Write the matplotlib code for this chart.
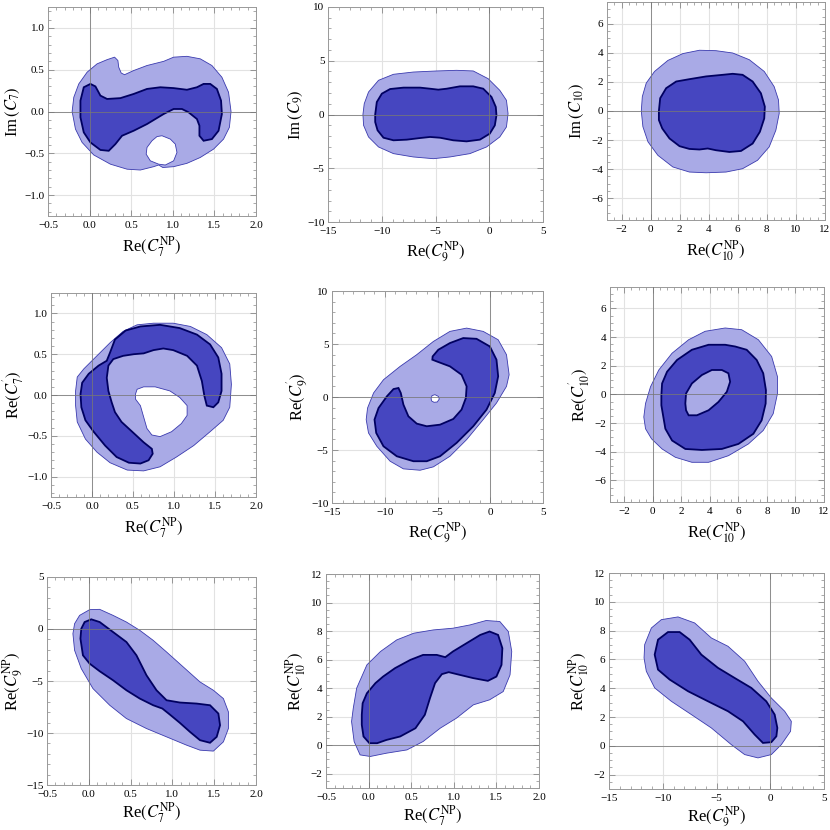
import matplotlib
matplotlib.use('Agg')
import matplotlib.pyplot as plt
from matplotlib.ticker import MultipleLocator, FuncFormatter

plt.rcParams['font.family'] = 'serif'
plt.rcParams['font.serif'] = ['Liberation Serif', 'DejaVu Serif']
plt.rcParams['mathtext.fontset'] = 'stix'

# ---------------- panel 1 : Re(C7) vs Im(C7) ----------------
p1_outer_x = [-0.21, -0.19, -0.13, -0.03, 0.09, 0.21, 0.30, 0.34, 0.35, 0.38, 0.42, 0.53, 0.69, 0.89, 1.01,
              1.17, 1.33, 1.47, 1.59, 1.67, 1.70, 1.68, 1.61, 1.49, 1.33, 1.17, 1.01, 0.88, 0.83, 0.77,
              0.61, 0.45, 0.25, 0.05, -0.09, -0.17]
p1_outer_y = [0.00, 0.17, 0.33, 0.47, 0.57, 0.62, 0.65, 0.61, 0.53, 0.46, 0.44, 0.49, 0.55, 0.60, 0.65,
              0.66, 0.63, 0.55, 0.41, 0.23, 0.00, -0.19, -0.33, -0.45, -0.55, -0.62, -0.66, -0.67, -0.64, -0.66,
              -0.70, -0.69, -0.63, -0.52, -0.37, -0.21]
p1_hole_x = [0.87, 0.97, 1.03, 1.05, 1.01, 0.91, 0.83, 0.73, 0.68, 0.69, 0.75, 0.81]
p1_hole_y = [-0.29, -0.33, -0.39, -0.49, -0.59, -0.64, -0.63, -0.59, -0.51, -0.43, -0.35, -0.30]
p1_inner_x = [-0.11, -0.07, 0.01, 0.07, 0.13, 0.21, 0.37, 0.53, 0.69, 0.85, 1.01, 1.17, 1.29, 1.37, 1.45,
              1.53, 1.58, 1.59, 1.55, 1.47, 1.37, 1.32, 1.32, 1.29, 1.19, 1.11, 1.01, 0.89, 0.69, 0.53,
              0.39, 0.31, 0.23, 0.13, 0.01, -0.07, -0.11]
p1_inner_y = [0.13, 0.29, 0.33, 0.30, 0.19, 0.15, 0.16, 0.21, 0.27, 0.29, 0.28, 0.26, 0.29, 0.33, 0.33,
              0.27, 0.13, -0.03, -0.23, -0.33, -0.35, -0.29, -0.17, -0.09, -0.01, 0.03, 0.03, -0.03, -0.15, -0.23,
              -0.29, -0.39, -0.47, -0.46, -0.37, -0.25, -0.07]

# ---------------- panel 2 : Re(C9) vs Im(C9) ----------------
p2_outer_x = [-11.75, -11.63, -11.23, -10.30, -8.91, -7.06, -4.89, -3.04, -1.49, -0.10, 0.98, 1.60, 1.75,
              1.60, 0.98, -0.25, -1.80, -3.66, -5.20, -7.06, -8.91, -10.30, -11.23, -11.69]
p2_outer_y = [0.0, 1.0, 2.09, 3.18, 3.74, 3.95, 4.05, 4.11, 4.05, 3.33, 2.25, 1.32, 0.08,
              -1.16, -2.09, -3.02, -3.64, -3.95, -4.11, -3.95, -3.64, -3.02, -2.09, -1.01]
p2_inner_x = [-10.61, -10.46, -9.99, -9.22, -7.98, -6.44, -5.51, -4.74, -3.96, -2.73, -1.49, -0.56, 0.21,
              0.61, 0.67, 0.52, 0.05, -0.87, -2.11, -3.35, -4.58, -5.51, -6.44, -7.67, -8.91, -9.84,
              -10.39, -10.61]
p2_inner_y = [0.0, 1.16, 1.94, 2.37, 2.50, 2.50, 2.40, 2.31, 2.40, 2.62, 2.62, 2.40, 1.63,
              0.70, -0.08, -1.01, -1.78, -2.34, -2.50, -2.40, -2.16, -2.09, -2.19, -2.34, -2.40, -2.16,
              -1.47, -0.70]

# ---------------- panel 3 : Re(C10) vs Im(C10) ----------------
p3_outer_x = [-0.64, -0.57, -0.30, 0.27, 1.19, 2.22, 3.36, 4.50, 5.65, 6.79, 7.82, 8.50, 8.80, 8.85,
              8.62, 8.16, 7.36, 6.33, 5.19, 3.82, 2.67, 1.53, 0.50, -0.18, -0.53]
p3_outer_y = [0.0, 0.99, 1.92, 2.72, 3.48, 3.95, 4.18, 4.15, 3.99, 3.53, 2.72, 1.68, 0.76, -0.16,
              -1.32, -2.47, -3.39, -3.97, -4.20, -4.25, -4.20, -3.85, -3.05, -2.12, -1.08]
p3_inner_x = [0.57, 0.66, 1.07, 1.76, 2.67, 3.82, 4.96, 5.65, 6.33, 7.02, 7.59, 7.86, 7.82, 7.52, 7.02,
              6.22, 5.42, 4.50, 3.93, 3.36, 2.67, 1.99, 1.30, 0.80, 0.57]
p3_inner_y = [0.0, 0.88, 1.57, 2.03, 2.19, 2.38, 2.49, 2.56, 2.49, 2.03, 1.22, 0.30, -0.51, -1.43, -2.24,
              -2.75, -2.82, -2.70, -2.58, -2.65, -2.61, -2.42, -1.89, -1.20, -0.62]

# ---------------- panel 4 : Re(C7) vs Re(C7') ----------------
p4_outer_x = [-0.20, -0.18, -0.10, 0.06, 0.22, 0.38, 0.55, 0.75, 0.99, 1.20, 1.40, 1.58, 1.68, 1.70,
              1.68, 1.60, 1.44, 1.24, 1.03, 0.83, 0.63, 0.43, 0.22, 0.06, -0.08, -0.18, -0.20]
p4_outer_y = [0.05, 0.22, 0.32, 0.48, 0.64, 0.78, 0.86, 0.88, 0.88, 0.84, 0.74, 0.58, 0.38, 0.13,
              -0.15, -0.31, -0.45, -0.62, -0.76, -0.88, -0.93, -0.92, -0.83, -0.70, -0.54, -0.33, -0.13]
p4_hole_x = [0.53, 0.55, 0.63, 0.77, 0.95, 1.07, 1.16, 1.16, 1.09, 0.97, 0.83, 0.73, 0.67, 0.63, 0.59, 0.53]
p4_hole_y = [0.01, 0.07, 0.10, 0.10, 0.05, -0.03, -0.13, -0.25, -0.35, -0.45, -0.51, -0.49, -0.41, -0.27,
             -0.13, -0.05]
p4_inner_x = [0.74, 0.69, 0.59, 0.45, 0.30, 0.16, 0.02, -0.08, -0.13, -0.14, -0.12, -0.04, 0.08, 0.18,
              0.22, 0.28, 0.41, 0.59, 0.83, 1.07, 1.28, 1.44, 1.54, 1.58, 1.58, 1.54, 1.48, 1.40, 1.37,
              1.34, 1.28, 1.16, 0.99, 0.87, 0.75, 0.63, 0.51, 0.38, 0.26, 0.20, 0.18, 0.20, 0.24, 0.28,
              0.36, 0.49, 0.63, 0.73]
p4_inner_y = [-0.72, -0.80, -0.84, -0.83, -0.76, -0.62, -0.45, -0.31, -0.15, 0.01, 0.15, 0.26, 0.36, 0.42,
              0.52, 0.68, 0.79, 0.84, 0.86, 0.82, 0.74, 0.62, 0.46, 0.26, 0.05, -0.09, -0.15, -0.13, -0.01,
              0.17, 0.36, 0.48, 0.55, 0.57, 0.55, 0.51, 0.50, 0.48, 0.44, 0.36, 0.21, 0.05, -0.09, -0.21,
              -0.33, -0.45, -0.58, -0.66]

# ---------------- panel 5 : Re(C9) vs Re(C9') ----------------
p5_outer_x = [-11.76, -11.63, -11.06, -10.12, -8.54, -6.97, -5.39, -3.82, -2.24, -0.67, 0.75, 1.54, 1.79,
              1.54, 0.59, -0.67, -2.24, -3.82, -5.39, -6.65, -8.23, -9.49, -10.75, -11.54]
p5_outer_y = [-2.13, -1.04, 0.38, 1.63, 2.89, 3.99, 5.24, 6.19, 6.50, 6.19, 5.40, 3.99, 2.10,
              1.00, -0.57, -2.13, -4.02, -5.59, -6.59, -6.91, -6.78, -6.06, -4.65, -3.39]
p5_hole_x = [-5.61, -5.52, -5.24, -4.92, -4.83, -5.02, -5.33, -5.55]
p5_hole_y = [-0.16, 0.13, 0.22, 0.06, -0.19, -0.47, -0.50, -0.38]
p5_inner_x = [-8.70, -9.17, -9.80, -10.59, -10.97, -10.81, -10.12, -8.86, -7.28, -6.02, -4.76, -3.19, -1.61,
              -0.35, 0.43, 0.75, 0.59, -0.04, -1.30, -2.56, -3.82, -4.92, -5.46, -5.49, -5.08, -3.82,
              -2.72, -2.24, -2.31, -2.72, -3.50, -4.76, -6.02, -6.97, -7.76, -8.23, -8.48]
p5_inner_y = [0.85, 0.75, 0.06, -1.04, -2.13, -3.39, -4.65, -5.59, -6.06, -6.06, -5.59, -4.33, -2.76,
              -1.19, 0.38, 1.95, 3.52, 4.77, 5.49, 5.56, 5.09, 4.46, 3.83, 3.52, 3.36, 2.89,
              2.10, 1.00, -0.09, -1.19, -2.07, -2.61, -2.76, -2.51, -1.82, -0.72, 0.38]

# ---------------- panel 6 : Re(C10) vs Re(C10') ----------------
p6_outer_x = [-0.63, -0.51, -0.16, 0.42, 1.35, 2.51, 3.67, 5.07, 6.23, 7.40, 8.33, 8.74, 8.74, 8.44,
              7.74, 6.70, 5.30, 3.91, 2.74, 1.58, 0.65, -0.09, -0.51]
p6_outer_y = [-1.57, -0.63, 0.54, 1.71, 2.88, 3.82, 4.41, 4.64, 4.52, 3.82, 2.65, 1.24, 0.07, -1.34,
              -2.51, -3.45, -4.27, -4.73, -4.73, -4.38, -3.80, -3.09, -2.39]
p6_inner_x = [0.60, 0.65, 1.00, 1.70, 2.74, 3.91, 5.07, 5.77, 6.58, 7.28, 7.74, 7.93, 7.91, 7.63, 7.05,
              6.00, 4.84, 3.44, 2.28, 1.35, 0.88, 0.70, 0.60]
p6_inner_y = [-0.05, 0.77, 1.59, 2.41, 3.12, 3.47, 3.47, 3.35, 3.12, 2.41, 1.48, 0.30, -0.63, -1.80, -2.74,
              -3.45, -3.80, -3.87, -3.80, -3.21, -2.39, -1.34, -0.75]
p6_hole_x = [2.28, 2.33, 2.74, 3.44, 4.14, 4.84, 5.30, 5.42, 5.19, 4.60, 3.91, 3.09, 2.51, 2.33]
p6_hole_y = [-0.63, 0.07, 0.77, 1.36, 1.71, 1.71, 1.48, 0.89, 0.19, -0.52, -1.10, -1.45, -1.45, -1.10]

# ---------------- panel 7 : Re(C7) vs Re(C9) ----------------
p7_outer_x = [-0.19, -0.17, -0.11, 0.01, 0.13, 0.29, 0.45, 0.61, 0.77, 0.93, 1.13, 1.33, 1.49, 1.61, 1.67,
              1.67, 1.61, 1.49, 1.33, 1.17, 0.93, 0.69, 0.45, 0.25, 0.05, -0.09, -0.17]
p7_outer_y = [-0.45, 0.51, 1.31, 1.86, 1.89, 1.31, 0.67, -0.13, -1.09, -2.21, -3.65, -5.09, -5.89, -6.69,
              -7.97, -9.57, -10.85, -11.74, -11.65, -11.17, -10.37, -9.57, -8.61, -7.33, -5.73, -3.81, -2.05]
p7_inner_x = [-0.10, -0.09, -0.05, 0.03, 0.13, 0.29, 0.45, 0.57, 0.69, 0.81, 0.93, 1.09, 1.29, 1.45, 1.55,
              1.57, 1.53, 1.45, 1.33, 1.21, 1.09, 0.97, 0.88, 0.77, 0.61, 0.45, 0.29, 0.13, 0.01, -0.07]
p7_inner_y = [-0.93, 0.03, 0.67, 0.93, 0.67, -0.29, -1.25, -2.53, -4.45, -5.89, -6.85, -7.07, -7.17, -7.33,
              -8.13, -9.25, -10.37, -10.94, -10.69, -9.89, -9.03, -8.23, -7.65, -7.33, -6.69, -5.89, -4.93,
              -4.06, -3.33, -2.53]

# ---------------- panel 8 : Re(C7) vs Re(C10) ----------------
p8_outer_x = [-0.20, -0.18, -0.14, -0.02, 0.14, 0.33, 0.53, 0.76, 0.99, 1.19, 1.38, 1.54, 1.64, 1.68, 1.66,
              1.58, 1.42, 1.23, 1.03, 0.84, 0.64, 0.45, 0.21, 0.02, -0.10, -0.17]
p8_outer_y = [1.66, 2.59, 4.00, 5.63, 6.57, 7.38, 7.85, 8.08, 8.20, 8.43, 8.74, 8.67, 7.97, 6.57, 4.93,
              3.76, 3.18, 2.83, 1.89, 1.19, 0.26, -0.33, -0.56, -0.79, -0.68, 0.26]
p8_inner_x = [-0.08, -0.07, -0.02, 0.08, 0.17, 0.31, 0.49, 0.64, 0.80, 0.90, 0.99, 1.15, 1.31, 1.42, 1.52,
              1.57, 1.56, 1.50, 1.40, 1.23, 1.07, 0.94, 0.86, 0.78, 0.72, 0.66, 0.55, 0.37, 0.21, 0.10,
              0.01, -0.06, -0.08]
p8_inner_y = [2.13, 2.94, 3.64, 4.35, 4.81, 5.40, 5.98, 6.33, 6.33, 6.17, 6.57, 7.15, 7.73, 7.97, 7.73,
              6.80, 5.63, 4.81, 4.51, 4.70, 4.93, 5.12, 4.98, 4.35, 3.29, 2.13, 1.19, 0.61, 0.37, 0.14,
              0.14, 0.61, 1.43]

# ---------------- panel 9 : Re(C9) vs Re(C10) ----------------
p9_outer_x = [-11.74, -11.68, -11.06, -10.13, -8.58, -7.03, -5.48, -3.93, -2.38, -1.14, 0.10, 1.34, 1.96,
              1.89, 1.03, 0.10, -1.14, -2.38, -3.62, -5.48, -7.34, -9.20, -10.75, -11.53]
p9_outer_y = [6.10, 7.03, 8.18, 8.76, 8.95, 8.53, 7.49, 6.91, 5.87, 4.48, 3.32, 2.40, 1.70,
              1.01, 0.08, -0.61, -0.84, -0.61, 0.08, 1.24, 2.17, 3.09, 4.02, 5.18]
p9_inner_x = [-10.75, -10.44, -9.51, -8.43, -7.50, -6.41, -4.86, -3.31, -1.76, -0.37, 0.41, 0.66, 0.57,
              0.10, -0.68, -1.45, -2.53, -3.93, -5.79, -7.65, -9.36, -10.44]
p9_inner_y = [6.33, 7.37, 7.90, 7.90, 7.37, 6.33, 5.41, 4.71, 4.02, 3.09, 2.17, 1.24, 0.66,
              0.25, 0.20, 0.78, 1.70, 2.40, 3.09, 3.79, 4.60, 5.29]

light = '#a9aae6'
dark = '#4646c0'
edge_light = '#3a3aae'
edge_dark = '#000060'


def fmt(v, pos, dec):
    s = f'{abs(v):.{dec}f}'
    return ('\u2212' + s) if v < -1e-9 else s


def setup(ax, xlim, ylim, xmaj, xmin, ymaj, ymin, xdec, ydec, xlabel, ylabel, ylab_x, xpad=3):
    ax.set_xlim(xlim)
    ax.set_ylim(ylim)
    ax.xaxis.set_major_locator(MultipleLocator(xmaj))
    ax.xaxis.set_minor_locator(MultipleLocator(xmin))
    ax.yaxis.set_major_locator(MultipleLocator(ymaj))
    ax.yaxis.set_minor_locator(MultipleLocator(ymin))
    ax.xaxis.set_major_formatter(FuncFormatter(lambda v, p: fmt(v, p, xdec)))
    ax.yaxis.set_major_formatter(FuncFormatter(lambda v, p: fmt(v, p, ydec)))
    ax.grid(True, which='major', color='#e2e2e2', lw=0.8, zorder=0)
    ax.set_axisbelow(True)
    ax.axhline(0, color='#777777', lw=0.7, zorder=5, alpha=0.8)
    ax.axvline(0, color='#777777', lw=0.7, zorder=5, alpha=0.8)
    ax.tick_params(which='both', direction='in', top=True, right=True, color='#888888',
                   labelsize=8, pad=2.5)
    ax.tick_params(which='major', length=4, width=0.6)
    ax.tick_params(which='minor', length=2, width=0.5)
    ax.tick_params(axis='x', which='major', pad=3.5)
    for s in ax.spines.values():
        s.set_color('#999999')
        s.set_linewidth(0.7)
    ax.set_xlabel(xlabel, fontsize=12, labelpad=xpad)
    ax.set_ylabel(ylabel, fontsize=12, va='center')
    # ylab_x : figure pixel where the centre of the rotated y label sits
    pos = ax.get_position()
    ax.yaxis.set_label_coords((ylab_x - pos.x0 * 830) / (pos.width * 830), 0.5)


def region(ax, ox, oy, ix, iy, hx=None, hy=None, ring=False):
    ax.fill(ox, oy, fc=light, ec=edge_light, lw=0.6, zorder=2)
    if ring:
        ax.fill(ix, iy, fc=dark, ec=edge_dark, lw=1.3, zorder=3)
        ax.fill(hx, hy, fc=light, ec=edge_dark, lw=1.3, zorder=4)
        return
    if hx is not None:
        ax.fill(hx, hy, fc='white', ec=edge_light, lw=0.6, zorder=2.5)
    ax.fill(ix, iy, fc=dark, ec=edge_dark, lw=1.3, zorder=3)


fig = plt.figure(figsize=(8.3, 8.3), dpi=100)


def add(left, top, w, h):
    return fig.add_axes([left / 830, 1 - (top + h) / 830, w / 830, h / 830])


lab_c7 = r'Re$(C_7^{\rm NP})$'
lab_c9 = r'Re$(C_9^{\rm NP})$'
lab_c10 = r'Re$(C_{10}^{\rm NP})$'

ax1 = add(48, 7, 208, 209)
region(ax1, p1_outer_x, p1_outer_y, p1_inner_x, p1_inner_y, p1_hole_x, p1_hole_y)
setup(ax1, (-0.5, 2.0), (-1.25, 1.25), 0.5, 0.1, 0.5, 0.1, 1, 1, lab_c7, r'Im$\,(C_7)$', 13)

ax2 = add(328, 7, 215, 215)
region(ax2, p2_outer_x, p2_outer_y, p2_inner_x, p2_inner_y)
setup(ax2, (-15, 5), (-10, 10), 5, 1, 5, 1, 0, 0, lab_c9, r'Im$\,(C_9)$', 296)

ax3 = add(607, 2, 218, 218)
region(ax3, p3_outer_x, p3_outer_y, p3_inner_x, p3_inner_y)
setup(ax3, (-3, 12), (-7.5, 7.5), 2, 0.5, 2, 0.5, 0, 0, lab_c10, r'Im$\,(C_{10})$', 577)

ax4 = add(51, 293, 205, 204)
region(ax4, p4_outer_x, p4_outer_y, p4_inner_x, p4_inner_y, p4_hole_x, p4_hole_y)
setup(ax4, (-0.5, 2.0), (-1.25, 1.25), 0.5, 0.1, 0.5, 0.1, 1, 1, lab_c7, r"Re$(C_7^{'})$", 13)

ax5 = add(332, 291, 211, 212)
region(ax5, p5_outer_x, p5_outer_y, p5_inner_x, p5_inner_y, p5_hole_x, p5_hole_y)
setup(ax5, (-15, 5), (-10, 10), 5, 1, 5, 1, 0, 0, lab_c9, r"Re$(C_9^{'})$", 297)

ax6 = add(610, 287, 214, 215)
region(ax6, p6_outer_x, p6_outer_y, p6_inner_x, p6_inner_y, p6_hole_x, p6_hole_y, ring=True)
setup(ax6, (-3, 12), (-7.5, 7.5), 2, 0.5, 2, 0.5, 0, 0, lab_c10, r"Re$(C_{10}^{'})$", 579)

ax7 = add(47, 577, 209, 208)
region(ax7, p7_outer_x, p7_outer_y, p7_inner_x, p7_inner_y)
setup(ax7, (-0.5, 2.0), (-15, 5), 0.5, 0.1, 5, 1, 1, 0, lab_c7, lab_c9, 13, xpad=1)

ax8 = add(326, 574, 213, 214)
region(ax8, p8_outer_x, p8_outer_y, p8_inner_x, p8_inner_y)
setup(ax8, (-0.5, 2.0), (-3, 12), 0.5, 0.1, 2, 0.5, 1, 0, lab_c7, lab_c10, 296, xpad=1)

ax9 = add(609, 573, 215, 216)
region(ax9, p9_outer_x, p9_outer_y, p9_inner_x, p9_inner_y)
setup(ax9, (-15, 5), (-3, 12), 5, 1, 2, 0.5, 0, 0, lab_c9, lab_c10, 579, xpad=1)

fig.savefig('out.png', dpi=100)
